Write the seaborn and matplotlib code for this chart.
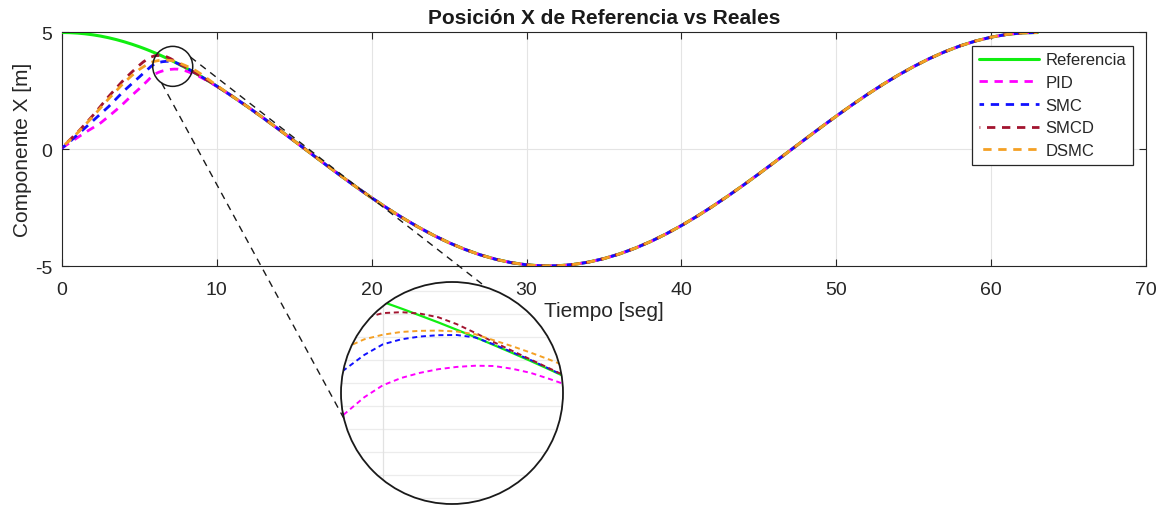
import numpy as np
import seaborn as sns
import matplotlib.pyplot as plt
from matplotlib.patches import Circle, Ellipse
from matplotlib.lines import Line2D

# ---------------------------------------------------------------------------
# Data: time [s] and X position [m]
# ---------------------------------------------------------------------------
t_early = [0, 0.5, 1, 1.5, 2, 2.5, 3, 3.5, 4, 4.5, 5,
           5.25, 5.5, 5.75, 6, 6.25, 6.5, 6.75, 7, 7.25, 7.5, 7.75,
           8, 8.25, 8.5, 8.75, 9, 9.5, 10]
t_tail = list(range(11, 64))

ref_early = [5.000, 4.994, 4.975, 4.944, 4.900, 4.845, 4.777, 4.697, 4.605, 4.502, 4.388,
             4.327, 4.263, 4.196, 4.127, 4.055, 3.980, 3.904, 3.824, 3.743, 3.658, 3.572,
             3.484, 3.393, 3.300, 3.205, 3.108, 2.908, 2.702]
ref_tail = [2.268, 1.812, 1.337, 0.850, 0.354, -0.146, -0.644, -1.136, -1.616, -2.081,
            -2.524, -2.943, -3.331, -3.687, -4.006, -4.284, -4.520, -4.711, -4.855, -4.950,
            -4.996, -4.991, -4.937, -4.834, -4.682, -4.484, -4.240, -3.955, -3.630, -3.268,
            -2.874, -2.451, -2.004, -1.537, -1.054, -0.561, -0.062, 0.437, 0.933, 1.418,
            1.890, 2.343, 2.772, 3.173, 3.543, 3.878, 4.174, 4.428, 4.637, 4.801,
            4.916, 4.983, 4.999]

# controller responses during the transient (after t = 10 s they follow the reference)
pid_early = [0.05, 0.28, 0.50, 0.72, 0.92, 1.13, 1.40, 1.68, 1.98, 2.30, 2.60,
             2.76, 2.92, 3.09, 3.22, 3.30, 3.355, 3.395, 3.42, 3.433, 3.43, 3.40,
             3.355, 3.29, 3.22, 3.15, 3.07, 2.89, 2.69]
smc_early = [0.05, 0.32, 0.62, 0.92, 1.22, 1.52, 1.82, 2.16, 2.50, 2.80, 3.10,
             3.25, 3.40, 3.55, 3.665, 3.72, 3.75, 3.765, 3.767, 3.74, 3.665, 3.58,
             3.495, 3.40, 3.305, 3.206, 3.109, 2.909, 2.702]
smcd_early = [0.08, 0.40, 0.72, 1.08, 1.45, 1.85, 2.25, 2.62, 2.98, 3.30, 3.60,
              3.74, 3.85, 3.95, 4.005, 4.015, 4.00, 3.96, 3.885, 3.79, 3.69, 3.595,
              3.50, 3.405, 3.31, 3.21, 3.11, 2.91, 2.70]
dsmc_early = [0.10, 0.38, 0.70, 1.05, 1.40, 1.78, 2.15, 2.50, 2.85, 3.15, 3.42,
              3.53, 3.63, 3.72, 3.77, 3.80, 3.812, 3.815, 3.805, 3.775, 3.71, 3.645,
              3.575, 3.50, 3.42, 3.32, 3.21, 2.97, 2.73]

series_names = ["PID", "SMC", "SMCD", "DSMC"]
series_colors = ["#FF00FF", "#1010FF", "#A2142F", "#F4A024"]
ref_color = "#11EE11"

x_ticks = [0, 10, 20, 30, 40, 50, 60, 70]
y_ticks = [-5, 0, 5]
inset_grid_x = [6.0]
inset_grid_y = [2.0, 2.25, 2.5, 2.75, 3.0, 3.25, 3.5, 3.75, 4.0, 4.25]

# ---------------------------------------------------------------------------
sns.set_theme(style="ticks")
plt.rcParams["font.family"] = ["Liberation Sans", "DejaVu Sans"]
plt.rcParams["axes.unicode_minus"] = False

t = np.array(t_early + t_tail, dtype=float)
ref = np.array(ref_early + ref_tail)
ctrl_vals = [np.array(v + ref_tail) for v in (pid_early, smc_early, smcd_early, dsmc_early)]

W, H = 1171, 506
fig = plt.figure(figsize=(W / 100, H / 100), dpi=100)
fig.patch.set_facecolor("white")

ax = fig.add_axes([62 / W, (H - 267) / H, (1146 - 62) / W, (267 - 33.5) / H], zorder=0)
ax.set_facecolor("white")

dash_offsets = [0.0, 1.35, 2.7, 4.05]
sns.lineplot(x=t, y=ref, ax=ax, color=ref_color, lw=2.2, label="Referencia",
             errorbar=None, zorder=3)
for name, vals, col, off in zip(series_names, ctrl_vals, series_colors, dash_offsets):
    sns.lineplot(x=t, y=vals, ax=ax, color=col, lw=2.0, label=name,
                 linestyle=(off, (3.0, 2.4)), errorbar=None, zorder=4)

ax.set_xlim(0, 70)
ax.set_ylim(-5, 5)
ax.set_xticks(x_ticks)
ax.set_yticks(y_ticks)
ax.grid(True, color="#e4e4e4", lw=0.8)
ax.set_axisbelow(True)
for sp in ax.spines.values():
    sp.set_visible(True)
    sp.set_color("#262626")
    sp.set_linewidth(0.8)
ax.tick_params(direction="in", top=True, right=True, length=5, width=0.8,
               color="#262626", labelcolor="#262626", labelsize=14, pad=7)
ax.tick_params(axis="x", pad=11)

ax.set_title("Posición X de Referencia vs Reales", fontsize=15, fontweight="bold",
             color="#1a1a1a", pad=7)
ax.set_xlabel("Tiempo [seg]", fontsize=15, color="#262626", labelpad=2)
ax.set_ylabel("Componente X [m]", fontsize=15, color="#262626", labelpad=2)

leg = ax.legend(loc="upper right", fontsize=12, frameon=True, fancybox=False,
                edgecolor="#262626", framealpha=1, handlelength=3.6, handletextpad=0.4,
                labelspacing=0.46, borderpad=0.4, borderaxespad=0.8)
leg.get_frame().set_linewidth(0.9)
for txt in leg.get_texts():
    txt.set_color("#262626")

# magnifier ring on the main axes
ring_center = (7.15, 3.55)
ring_r = 20  # px
p0 = ax.transData.transform((0, 0))
p1 = ax.transData.transform((1, 1))
sx, sy = p1 - p0
ax.add_patch(Ellipse(ring_center, 2 * ring_r / sx, 2 * ring_r / sy, fill=False,
                     edgecolor="#1a1a1a", lw=1.1, zorder=6))

# ---------------------------------------------------------------------------
# circular zoom view
R = 111
cx, cy = 452, H - 394
ax_in = fig.add_axes([(cx - R) / W, (cy - R) / H, 2 * R / W, 2 * R / H], zorder=2)
ax_in.axis("off")
bg = Circle((0.5, 0.5), 0.5, transform=ax_in.transAxes, facecolor="white",
            edgecolor="none", zorder=0)
ax_in.add_patch(bg)

for v in inset_grid_y:
    gl = ax_in.axhline(v, color="#ececec", lw=0.9, zorder=1)
    gl.set_clip_path(bg)
for v in inset_grid_x:
    gl = ax_in.axvline(v, color="#e2e2e2", lw=0.9, zorder=1)
    gl.set_clip_path(bg)

sns.lineplot(x=t, y=ref, ax=ax_in, color=ref_color, lw=1.6, errorbar=None,
             legend=False, zorder=3)
ax_in.lines[-1].set_clip_path(bg)
for vals, col in zip(ctrl_vals, series_colors):
    sns.lineplot(x=t, y=vals, ax=ax_in, color=col, lw=1.4, linestyle=(0, (2.6, 1.9)),
                 errorbar=None, legend=False, zorder=4)
    ax_in.lines[-1].set_clip_path(bg)

ax_in.set_xlim(5.436, 8.436)
ax_in.set_ylim(1.93, 4.343)
ax_in.add_patch(Circle((0.5, 0.5), 0.5, transform=ax_in.transAxes, fill=False,
                       edgecolor="#1a1a1a", lw=1.3, zorder=6, clip_on=False))

# dashed guides from the ring to the zoom view
c_small = ax.transData.transform(ring_center)
c_big = np.array([cx, cy], dtype=float)
for a_small, a_big in ((27.7, 71.9), (-123.7, -166.6)):
    ps = c_small + ring_r * np.array([np.cos(np.radians(a_small)), np.sin(np.radians(a_small))])
    pb = c_big + R * np.array([np.cos(np.radians(a_big)), np.sin(np.radians(a_big))])
    fig.add_artist(Line2D([ps[0] / W, pb[0] / W], [ps[1] / H, pb[1] / H],
                          transform=fig.transFigure, color="#1a1a1a", lw=1.0,
                          linestyle=(0, (5, 4)), zorder=1))

fig.savefig("out.png", dpi=100)
